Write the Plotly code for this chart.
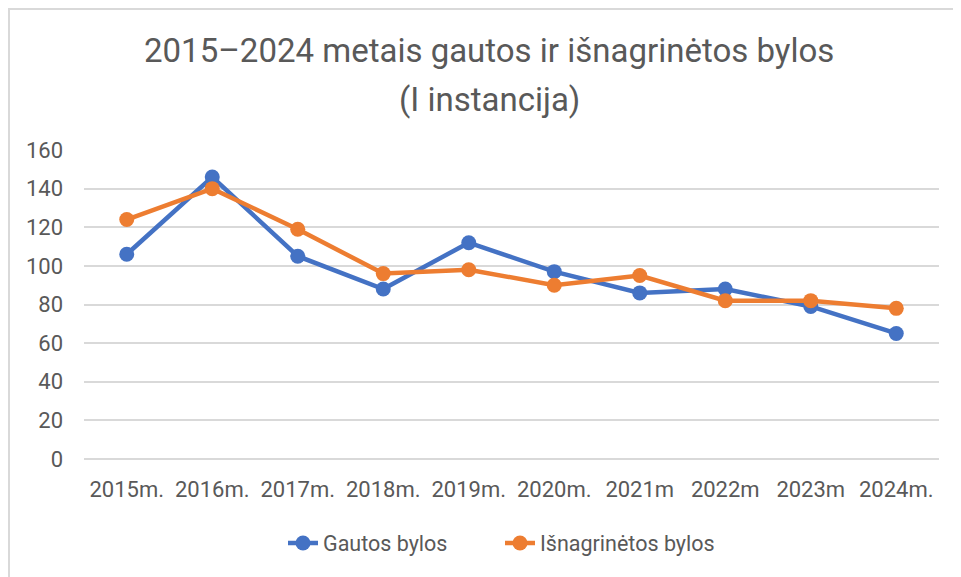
import plotly.graph_objects as go

years = ["2015m.", "2016m.", "2017m.", "2018m.", "2019m.", "2020m.", "2021m", "2022m", "2023m", "2024m."]
gautos = [106, 146, 105, 88, 112, 97, 86, 88, 79, 65]
isnagrinetos = [124, 140, 119, 96, 98, 90, 95, 82, 82, 78]
y_ticks = [0, 20, 40, 60, 80, 100, 120, 140, 160]
title_lines = ["2015–2024 metais gautos ir išnagrinėtos bylos", "(I instancija)"]

FONT = "Roboto, sans-serif"
GREY = "#595959"
W, H = 961, 577
OFF = 8  # page body margin
# desired plot area in page pixels
PX0, PX1, PY0, PY1 = 84, 939, 150, 459
ML = PX0 - OFF
MR = W + OFF - PX1
MT = PY0 - OFF
MB = H + OFF - PY1
PW, PH = PX1 - PX0, PY1 - PY0

fig = go.Figure()
fig.add_trace(go.Scatter(x=years, y=gautos, name="Gautos bylos", mode="lines+markers",
                         line=dict(color="#4472C4", width=4.5),
                         marker=dict(size=15, color="#4472C4")))
fig.add_trace(go.Scatter(x=years, y=isnagrinetos, name="Išnagrinėtos bylos", mode="lines+markers",
                         line=dict(color="#ED7D31", width=4.5),
                         marker=dict(size=15, color="#ED7D31")))

def px_x(p):
    return (p - PX0) / PW

def px_y(p):
    return (PY1 - p) / PH

annotations = []
for txt, cy in zip(title_lines, [50, 100]):
    annotations.append(dict(text=txt, xref="paper", yref="paper", x=px_x(489), y=px_y(cy),
                            xanchor="center", yanchor="middle", showarrow=False,
                            font=dict(size=33, color=GREY, family=FONT)))

fig.update_layout(
    width=W, height=H,
    margin=dict(l=ML, r=MR, t=MT, b=MB),
    paper_bgcolor="white", plot_bgcolor="white",
    font=dict(family=FONT, color=GREY, size=22),
    annotations=annotations,
    xaxis=dict(range=[-0.5, len(years) - 0.5], showgrid=False, showline=False, ticks="",
               tickfont=dict(size=22), ticklabelstandoff=15),
    yaxis=dict(range=[0, 160], tickvals=y_ticks, showgrid=True, gridcolor="#d9d9d9",
               gridwidth=1.5, zeroline=True, zerolinecolor="#d9d9d9", zerolinewidth=1.5,
               showline=False, ticks="", tickfont=dict(size=22), ticklabelstandoff=20),
    legend=dict(orientation="h", x=px_x(500), xanchor="center", y=px_y(543), yanchor="middle",
                font=dict(size=21.5), entrywidth=172, entrywidthmode="pixels"),
    showlegend=True,
    shapes=[
        dict(type="line", xref="paper", yref="paper", x0=px_x(OFF), x1=px_x(W + OFF), y0=px_y(OFF + 1), y1=px_y(OFF + 1),
             line=dict(color="#d9d9d9", width=2)),
        dict(type="line", xref="paper", yref="paper", x0=px_x(OFF + 1), x1=px_x(OFF + 1), y0=px_y(OFF), y1=px_y(H + OFF),
             line=dict(color="#d9d9d9", width=2)),
    ],
)

fig.write_html("out.html")
